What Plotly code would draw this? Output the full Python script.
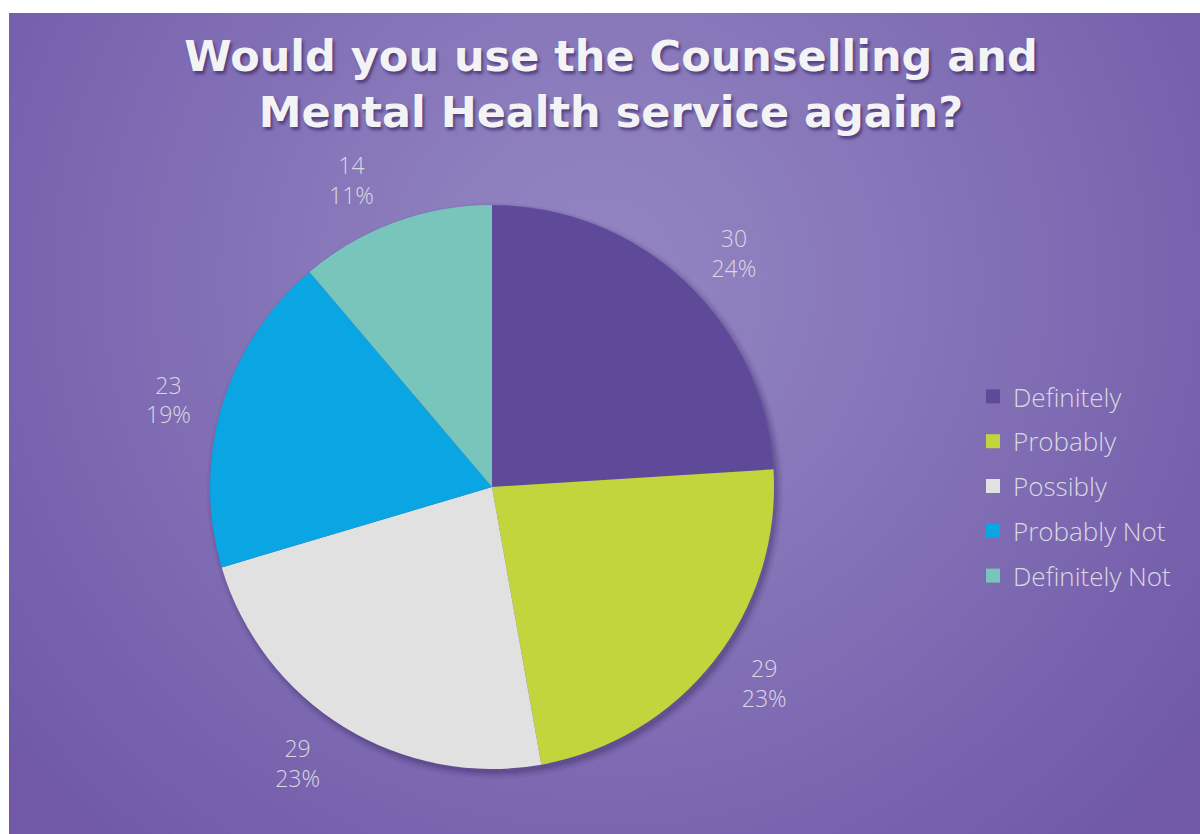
import plotly.graph_objects as go

# Survey responses
categories = ["Definitely", "Probably", "Possibly", "Probably Not", "Definitely Not"]
counts = [30, 29, 29, 23, 14]
pct_labels = ["24%", "23%", "23%", "19%", "11%"]
colors = ["#5f4a9a", "#c2d53c", "#e1e1e1", "#0aa6e4", "#78c5bc"]

TITLE = "Would you use the Counselling and<br>Mental Health service again?"

W, H = 1200, 834
PIE_CX, PIE_CY, PIE_R = 492, 487, 282  # pixel geometry of the pie
LABEL_R = 298                           # radius the outside labels hang from

LABEL_FONT = dict(family="Open Sans", size=23, color="#d9d9e0", weight=300)


def mix(c1, c2, t):
    a = [int(c1[i:i + 2], 16) for i in (1, 3, 5)]
    b = [int(c2[i:i + 2], 16) for i in (1, 3, 5)]
    return "#" + "".join(f"{round(x + (y - x) * t):02x}" for x, y in zip(a, b))


def pie_domain(r):
    return dict(x=[(PIE_CX - r) / W, (PIE_CX + r) / W],
                y=[1 - (PIE_CY + r) / H, 1 - (PIE_CY - r) / H])


shapes = []

# Radial background glow built from concentric discs (outermost first)
g_cx, g_cy = 600, 280
edge_col, centre_col = "#7159a8", "#9386c3"
steps = 60
for i in range(steps):
    r = 1000 * (1 - i / steps)
    t = min(r / 760, 1.0) ** 1.1
    shapes.append(dict(
        type="circle", layer="below", xref="paper", yref="paper",
        xsizemode="pixel", ysizemode="pixel",
        xanchor=g_cx / W, yanchor=1 - g_cy / H,
        x0=-r, x1=r, y0=-r, y1=r,
        fillcolor=mix(centre_col, edge_col, t), line_width=0,
    ))

# White page margin at top and left of the panel
shapes.append(dict(type="rect", layer="below", xref="paper", yref="paper",
                   x0=0, x1=1, y0=1 - 13 / H, y1=1, fillcolor="white", line_width=0))
shapes.append(dict(type="rect", layer="below", xref="paper", yref="paper",
                   x0=0, x1=9 / W, y0=0, y1=1, fillcolor="white", line_width=0))

# Soft drop shadow under the pie
for k, op in [(6, 0.05), (4, 0.07), (2, 0.10), (0, 0.14)]:
    r = PIE_R + k
    shapes.append(dict(
        type="circle", layer="below", xref="paper", yref="paper",
        xsizemode="pixel", ysizemode="pixel",
        xanchor=(PIE_CX + 3) / W, yanchor=1 - (PIE_CY + 4) / H,
        x0=-r, x1=r, y0=-r, y1=r,
        fillcolor="#2a1650", opacity=op, line_width=0,
    ))

fig = go.Figure()

common = dict(labels=categories, values=counts, sort=False,
              direction="clockwise", rotation=0, showlegend=False,
              automargin=False)

# Transparent, slightly larger copy that carries the value labels
fig.add_trace(go.Pie(
    **common,
    text=pct_labels,
    texttemplate="%{value}<br>%{text}",
    textposition="outside",
    textfont=LABEL_FONT,
    marker=dict(colors=["rgba(0,0,0,0)"] * len(counts), line=dict(width=0)),
    domain=pie_domain(LABEL_R),
    hoverinfo="skip",
))

# Visible pie
fig.add_trace(go.Pie(
    **common,
    textinfo="none",
    marker=dict(colors=colors, line=dict(width=0)),
    domain=pie_domain(PIE_R),
    hoverinfo="label+value+percent",
))

# Legend entries, one group per category for even spacing
for name, col in zip(categories, colors):
    fig.add_trace(go.Scatter(
        x=[None], y=[None], mode="markers", name=name,
        legendgroup=name,
        marker=dict(symbol="square", size=14, color=col, line=dict(width=0)),
        hoverinfo="skip",
    ))

fig.update_layout(
    width=W, height=H,
    margin=dict(l=0, r=0, t=0, b=0),
    paper_bgcolor="white",
    plot_bgcolor="rgba(0,0,0,0)",
    shapes=shapes,
    xaxis=dict(visible=False, range=[0, 1], fixedrange=True),
    yaxis=dict(visible=False, range=[0, 1], fixedrange=True),
    title=dict(
        text=TITLE,
        x=611 / W, xanchor="center",
        y=1 - 71 / H, yanchor="top",
        font=dict(family="DejaVu Sans", size=43, color="#f3f3f5", weight="bold",
                  shadow="2px 3px 3px rgba(40,20,80,0.55)"),
    ),
    legend=dict(
        x=973 / W, xanchor="left",
        y=1 - 373 / H, yanchor="top",
        bgcolor="rgba(0,0,0,0)",
        font=dict(family="Open Sans", size=26, color="#d9d9e0", weight=300),
        tracegroupgap=8,
        itemclick=False, itemdoubleclick=False,
    ),
)

fig.write_html("out.html")
